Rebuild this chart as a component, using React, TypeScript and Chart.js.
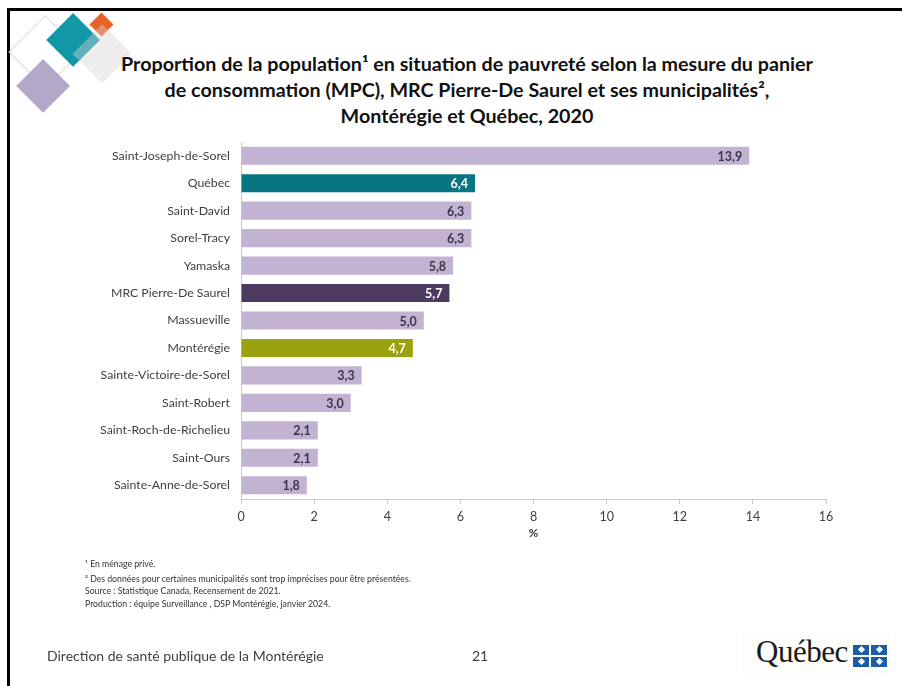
import React, { useEffect, useRef } from "react";
import { Chart, registerables } from "chart.js";

Chart.register(...registerables);

const categories = [
  "Saint-Joseph-de-Sorel",
  "Québec",
  "Saint-David",
  "Sorel-Tracy",
  "Yamaska",
  "MRC Pierre-De Saurel",
  "Massueville",
  "Montérégie",
  "Sainte-Victoire-de-Sorel",
  "Saint-Robert",
  "Saint-Roch-de-Richelieu",
  "Saint-Ours",
  "Sainte-Anne-de-Sorel",
];
const values = [13.9, 6.4, 6.3, 6.3, 5.8, 5.7, 5.0, 4.7, 3.3, 3.0, 2.1, 2.1, 1.8];
const LIGHT = "#c3b3d3";
const barColors = [LIGHT, "#087682", LIGHT, LIGHT, LIGHT, "#4c3b60", LIGHT, "#9aa30f", LIGHT, LIGHT, LIGHT, LIGHT, LIGHT];
const valueLabelColors = ["#3a3548", "#ffffff", "#3a3548", "#3a3548", "#3a3548", "#ffffff", "#3a3548", "#ffffff", "#3a3548", "#3a3548", "#3a3548", "#3a3548", "#3a3548"];
const xMin = 0;
const xMax = 16;
const xStep = 2;
const xTitle = "%";

const FONT = "Lato, 'Open Sans', sans-serif";

const valueLabelPlugin = {
  id: "valueLabels",
  afterDatasetsDraw(chart: any) {
    const ctx = chart.ctx;
    const meta = chart.getDatasetMeta(0);
    ctx.save();
    ctx.font = `bold 12.5px ${FONT}`;
    ctx.textAlign = "right";
    ctx.textBaseline = "middle";
    meta.data.forEach((bar: any, i: number) => {
      ctx.fillStyle = valueLabelColors[i];
      ctx.fillText(values[i].toFixed(1).replace(".", ","), bar.x - 7, bar.y + 1);
    });
    ctx.restore();
  },
};

function Diamond(props: { cx: number; cy: number; r: number; style: React.CSSProperties }) {
  const side = props.r * Math.SQRT2;
  return (
    <div
      style={{
        position: "absolute",
        left: props.cx - side / 2,
        top: props.cy - side / 2,
        width: side,
        height: side,
        transform: "rotate(45deg)",
        boxSizing: "border-box",
        ...props.style,
      }}
    />
  );
}

function QuebecFlag() {
  const cell = (l: number, t: number) => (
    <div style={{ position: "absolute", left: l, top: t, width: 16, height: 10, background: "#1d5aa8" }}>
      <div
        style={{
          position: "absolute",
          left: 5.5,
          top: 2,
          width: 5,
          height: 5,
          background: "#ffffff",
          transform: "rotate(45deg)",
        }}
      />
    </div>
  );
  return (
    <div style={{ position: "absolute", left: 853, top: 645, width: 34, height: 22 }}>
      {cell(0, 0)}
      {cell(18, 0)}
      {cell(0, 12)}
      {cell(18, 12)}
    </div>
  );
}

export default function App() {
  const canvasRef = useRef<HTMLCanvasElement | null>(null);

  useEffect(() => {
    if (!canvasRef.current) return;
    const chart = new Chart(canvasRef.current, {
      type: "bar",
      data: {
        labels: categories,
        datasets: [
          {
            data: values,
            backgroundColor: barColors,
            borderWidth: 0,
            barPercentage: 0.66,
            categoryPercentage: 1,
          },
        ],
      },
      options: {
        indexAxis: "y",
        responsive: false,
        animation: false,
        events: [],
        layout: { padding: { left: 0, top: 142, right: 76, bottom: 146 } },
        plugins: {
          legend: { display: false },
          tooltip: { enabled: false },
          title: { display: false },
        },
        scales: {
          x: {
            min: xMin,
            max: xMax,
            ticks: {
              stepSize: xStep,
              color: "#404040",
              font: { family: FONT, size: 12.5 },
              padding: 5,
            },
            grid: {
              display: true,
              drawOnChartArea: false,
              drawTicks: true,
              tickLength: 5,
              color: "#c8c8c8",
            },
            border: { display: true, color: "#c8c8c8" },
            title: {
              display: true,
              text: xTitle,
              color: "#333333",
              font: { family: FONT, size: 11.5, weight: "bold" },
              padding: { top: 2, bottom: 0 },
            },
            afterFit(scale: any) {
              scale.height = 41;
            },
          },
          y: {
            ticks: {
              color: "#404040",
              font: { family: FONT, size: 12.3 },
              padding: 11,
            },
            grid: { display: false, drawTicks: false },
            border: { display: true, color: "#c8c8c8" },
            afterFit(scale: any) {
              scale.width = 241;
            },
          },
        },
      },
      plugins: [valueLabelPlugin],
    });
    return () => chart.destroy();
  }, []);

  return (
    <div
      style={{
        position: "absolute",
        left: 0,
        top: 0,
        width: 902,
        height: 686,
        overflow: "hidden",
        background: "#ffffff",
        fontFamily: FONT,
      }}
    >
      {/* slide border */}
      <div
        style={{
          position: "absolute",
          left: 7,
          top: 8,
          width: 1000,
          height: 1000,
          borderLeft: "3px solid #000",
          borderTop: "3px solid #000",
        }}
      />
      {/* decorative diamonds */}
      <Diamond cx={45} cy={52} r={37} style={{ border: "1.5px solid #d7ddd2" }} />
      <Diamond cx={43} cy={86} r={27} style={{ background: "#b3a8c8" }} />
      <Diamond cx={73} cy={40} r={27} style={{ background: "#1197a6" }} />
      <Diamond cx={101} cy={24} r={12} style={{ background: "#e8622a" }} />
      <Diamond cx={102} cy={54} r={30} style={{ background: "rgba(217,213,210,0.42)" }} />

      {/* title */}
      <div
        style={{
          position: "absolute",
          left: 67,
          top: 51,
          width: 800,
          textAlign: "center",
          fontWeight: "bold",
          fontSize: 19.7,
          lineHeight: "26px",
          color: "#111111",
        }}
      >
        Proportion de la population¹ en situation de pauvreté selon la mesure du panier
        <br />
        de consommation (MPC), MRC Pierre-De Saurel et ses municipalités²,
        <br />
        Montérégie et Québec, 2020
      </div>

      <canvas
        ref={canvasRef}
        width={902}
        height={686}
        style={{ position: "absolute", left: 0, top: 0, width: 902, height: 686 }}
      />

      {/* footnotes */}
      <div
        style={{
          position: "absolute",
          left: 85,
          top: 558,
          fontSize: 8.7,
          lineHeight: "12.5px",
          color: "#333333",
        }}
      >
        <div>¹ En ménage privé.</div>
        <div style={{ marginTop: 2 }}>² Des données pour certaines municipalités sont trop imprécises pour être présentées.</div>
        <div>Source : Statistique Canada, Recensement de 2021.</div>
        <div>Production : équipe Surveillance , DSP Montérégie, janvier 2024.</div>
      </div>

      {/* footer */}
      <div style={{ position: "absolute", left: 47, top: 647, fontSize: 14, color: "#404040" }}>
        Direction de santé publique de la Montérégie
      </div>
      <div style={{ position: "absolute", left: 472, top: 647, fontSize: 14, color: "#404040" }}>21</div>

      {/* Québec logo */}
      <div style={{ position: "absolute", left: 742, top: 632, width: 148, height: 43, background: "#fdfdfc" }} />
      <div
        style={{
          position: "absolute",
          left: 756,
          top: 634,
          fontSize: 31,
          fontFamily: "'Liberation Serif', serif",
          color: "#1a1a1a",
          letterSpacing: -0.5,
        }}
      >
        Québec
      </div>
      <QuebecFlag />
    </div>
  );
}
